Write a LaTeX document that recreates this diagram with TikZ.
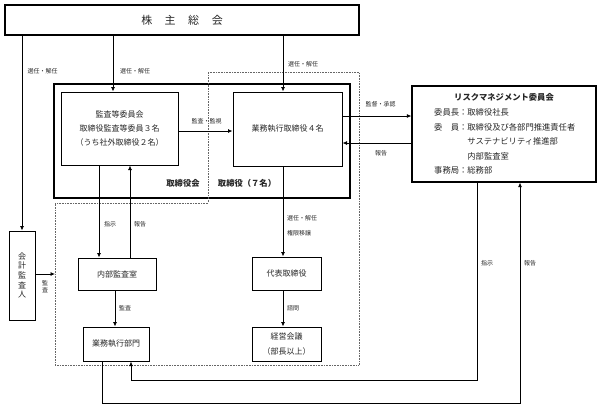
\documentclass[tikz,border=0pt]{standalone}
\usepackage{fontspec}
\setmainfont{Noto Sans CJK JP}
\usetikzlibrary{arrows.meta}
\begin{document}
\begin{tikzpicture}[x=1pt,y=-1pt,
  every node/.style={inner sep=0pt, text=black!85},
  bx/.style={draw=black, line width=1pt, align=center, font=\fontsize{8}{14.5}\selectfont},
  lbl/.style={font=\fontsize{6}{7}\selectfont},
  arr/.style={draw=black, line width=0.8pt, -{Latex[length=4.5pt,width=4pt]}},
  dashbox/.style={draw=black!60, line width=0.6pt, densely dotted},
  hd/.style={font=\fontsize{8.3}{10}\selectfont\bfseries}]
\useasboundingbox (0,0) rectangle (600,408);

% frames
\node[draw=black, line width=1.3pt, minimum width=296pt, minimum height=114pt] (board) at (202,141) {};
\draw[dashbox] (208,72) -- (359,72) -- (359,365) -- (55,365) -- (55,203) -- (208,203) -- cycle;

% boxes
\node[bx, line width=1.3pt, minimum width=354pt, minimum height=30pt, font=\fontsize{11}{13}\selectfont] (top) at (182,20) {株\kern12.5pt主\kern12.5pt総\kern12.5pt会};
\node[bx, minimum width=26pt, minimum height=89pt, font=\fontsize{8}{9.6}\selectfont] (audit) at (22,275.5) {会\\計\\監\\査\\人};
\node[bx, minimum width=117pt, minimum height=73pt, font=\fontsize{8}{14}\selectfont] (kansa) at (119.5,128.5) {監査等委員会\\取締役監査等委員３名\\（うち社外取締役２名）};
\node[bx, minimum width=109pt, minimum height=74pt] (gyomu) at (287.5,129) {業務執行取締役４名};
\node[bx, minimum width=78pt, minimum height=32pt] (naibu) at (117,274) {内部監査室};
\node[bx, minimum width=66pt, minimum height=34pt] (bumon) at (116,344) {業務執行部門};
\node[bx, minimum width=69pt, minimum height=33pt] (daihyo) at (286.5,273.5) {代表取締役};
\node[bx, minimum width=69pt, minimum height=34pt, font=\fontsize{8}{15}\selectfont] (keiei) at (286.5,344) {経営会議\\（部長以上）};
\node[bx, line width=1.1pt, minimum width=184pt, minimum height=96pt] (risk) at (504,134) {};

% risk text
\node[hd] (risktitle) at (504,97) {リスクマネジメント委員会};
\node[anchor=west, align=left, font=\fontsize{8.3}{14.5}\selectfont] (risktext) at (434,141.5) {委員長：取締役社長\\委\hspace{1em}員：取締役及び各部門推進責任者\\\hspace*{4em}サステナビリティ推進部\\\hspace*{4em}内部監査室\\事務局：総務部};

% board labels
\node[hd] (lbboard) at (183,183) {取締役会};
\node[hd] (lbdir) at (247,183) {取締役（７名）};

% connectors
\draw[arr] (top.south -| audit.north) -- (audit.north);
\draw[arr] (top.south -| 113,0) -- (kansa.north -| 113,0);
\draw[arr] (top.south -| 283,0) -- (gyomu.north -| 283,0);
\draw[arr] (kansa.east |- 0,131) -- (gyomu.west |- 0,131);
\draw[arr] (kansa.south -| 99,0) -- (naibu.north -| 99,0);
\draw[arr] (naibu.north -| 130,0) -- (kansa.south -| 130,0);
\draw[arr] (naibu.south -| 115,0) -- (bumon.north -| 115,0);
\coordinate (dashL) at (55,274);
\draw[arr] (audit.east |- dashL) -- (dashL);
\draw[arr] (gyomu.south -| 283,0) -- (daihyo.north -| 283,0);
\draw[arr] (daihyo.south -| 283,0) -- (keiei.north -| 283,0);
\draw[arr] (gyomu.east |- 0,116) -- (risk.west |- 0,116);
\draw[arr] (risk.west |- 0,143) -- (gyomu.east |- 0,143);
\draw[arr] (risk.south -| 477,0) -- (477,380) -| (bumon.south -| 131,0);
\draw[arr] (bumon.south -| 102,0) -- (102,403) -| (risk.south -| 520,0);

% labels
\node[lbl] (l1) at (42.5,71) {選任・解任};
\node[lbl] (l2) at (135,71) {選任・解任};
\node[lbl] (l3) at (303,64) {選任・解任};
\node[lbl] (l4) at (206.5,121) {監査・監視};
\node[lbl] (l5) at (380.5,104) {監督・承認};
\node[lbl] (l6) at (381,153) {報告};
\node[lbl] (l7) at (110,224) {指示};
\node[lbl] (l8) at (140,224) {報告};
\node[lbl, align=center, font=\fontsize{6}{7}\selectfont] (l9) at (45,287) {監\\査};
\node[lbl] (l10) at (125,308) {監査};
\node[lbl, anchor=west] (l11) at (287,218) {選任・解任};
\node[lbl, anchor=west] (l12) at (287,233) {権限移譲};
\node[lbl, anchor=west] (l13) at (287,308) {諮問};
\node[lbl] (l14) at (487,263) {指示};
\node[lbl] (l15) at (530,263) {報告};
\end{tikzpicture}
\end{document}
